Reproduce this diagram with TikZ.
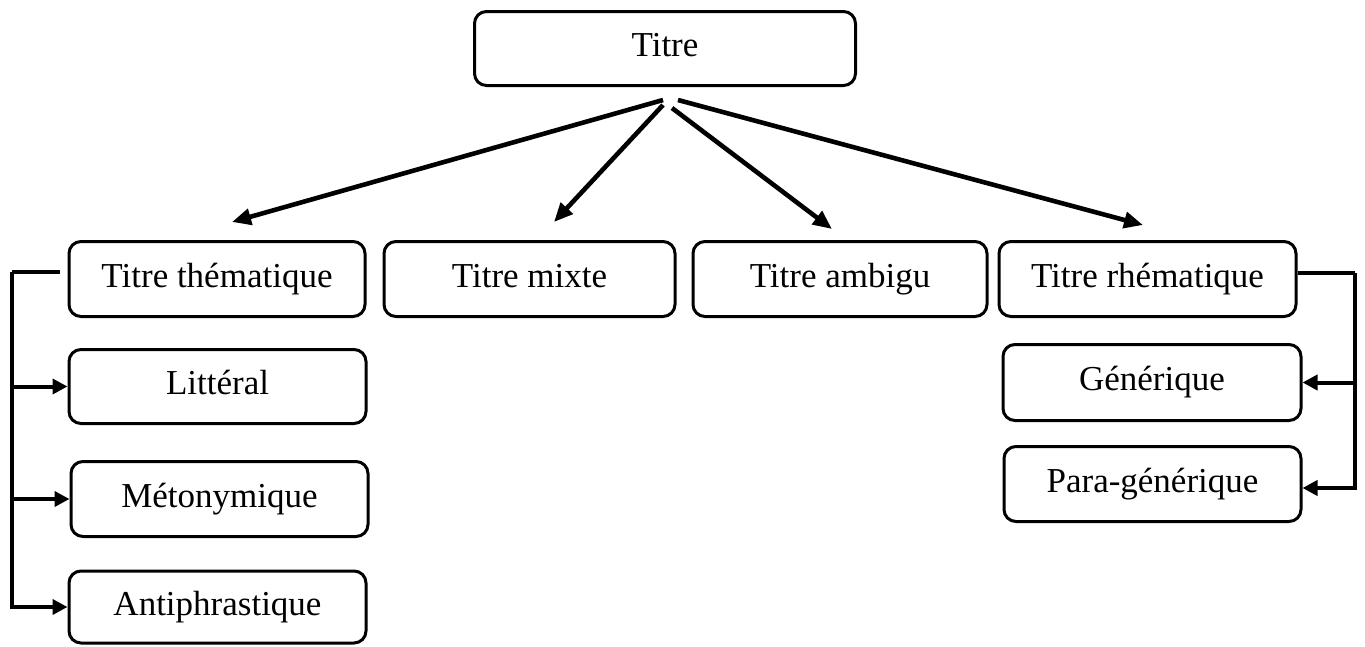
\documentclass[tikz,border=0pt]{standalone}
\usepackage{fontspec}
\setmainfont{Liberation Serif}
\usetikzlibrary{arrows.meta}
\begin{document}
\begin{tikzpicture}[x=1pt,y=-1pt,
  box/.style={draw=black,line width=3pt,rounded corners=12pt,fill=white,
    inner sep=0pt,text height=24pt,text depth=8pt,font=\fontsize{35}{40}\selectfont},
  arr/.style={line width=4.6pt,-{Triangle[length=19pt,width=16pt]}},
  sarr/.style={line width=4pt,-{Triangle[length=15pt,width=15pt]}},
  ln/.style={line width=4pt}]
\useasboundingbox (0,0) rectangle (1365,646);
% nodes
\node[box,minimum width=381pt,minimum height=74pt] (top) at (665,48.5) {Titre};
\node[box,minimum width=296pt,minimum height=75pt] (them) at (217,279) {Titre thématique};
\node[box,minimum width=291pt,minimum height=75pt] (mixte) at (529.5,279) {Titre mixte};
\node[box,minimum width=294pt,minimum height=75pt] (amb) at (840,279) {Titre ambigu};
\node[box,minimum width=297pt,minimum height=75pt] (rhem) at (1147.5,279) {Titre rhématique};
\node[box,minimum width=297pt,minimum height=74pt] (litt) at (217.5,386.5) {Littéral};
\node[box,minimum width=297pt,minimum height=75pt] (meto) at (219.5,499) {Métonymique};
\node[box,minimum width=297pt,minimum height=72pt] (anti) at (217.5,607) {Antiphrastique};
\node[box,minimum width=298pt,minimum height=76pt] (gen) at (1152,382.5) {Générique};
\node[box,minimum width=297pt,minimum height=75pt] (para) at (1152.5,484) {Para-générique};
% coordinates for free ends
\coordinate (s1) at (663,100);
\coordinate (s2) at (663,105);
\coordinate (s3) at (672,108);
\coordinate (s4) at (678,100);
\coordinate (t1) at (232,222);
\coordinate (t2) at (554,222);
\coordinate (t3) at (832,229);
\coordinate (t4) at (1143,225);
\coordinate (L) at (12,272);
\coordinate (R) at (1355,273);
% main arrows
\draw[arr] (s1) -- (t1);
\draw[arr] (s2) -- (t2);
\draw[arr] (s3) -- (t3);
\draw[arr] (s4) -- (t4);
% left bracket
\draw[ln] ([xshift=-8pt,yshift=7pt]them.west) -- (L);
\draw[sarr] (L) |- (anti.west);
\draw[sarr] (L |- litt.west) -- (litt.west);
\draw[sarr] (L |- meto.west) -- (meto.west);
% right bracket
\draw[ln] ([yshift=6pt]rhem.east) -- (R);
\draw[sarr] (R) |- ([yshift=-4pt]para.east);
\draw[sarr] (R |- gen.east) -- (gen.east);
\end{tikzpicture}
\end{document}
